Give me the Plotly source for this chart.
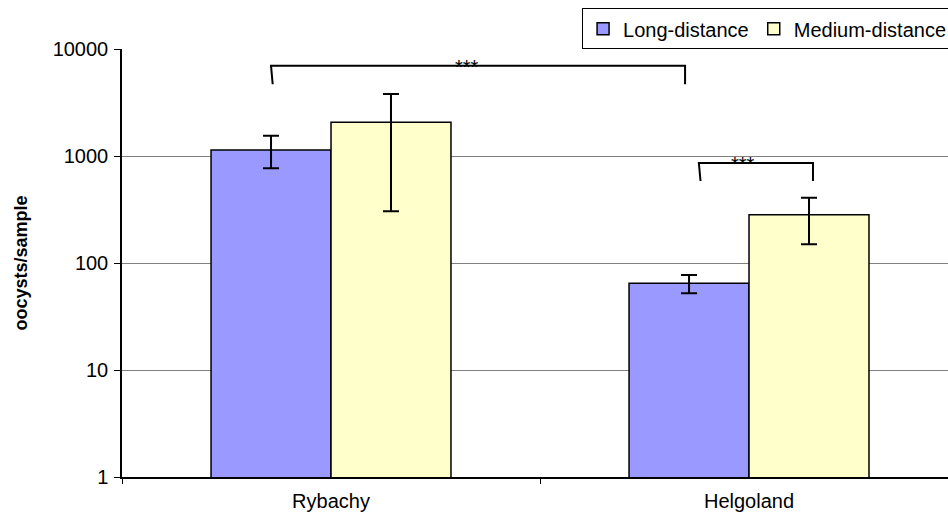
import math
import plotly.graph_objects as go

# Oocyst counts per sample, by site and migration distance
sites = ["Rybachy", "Helgoland"]
long_mean = [1140, 64.6]
long_upper = [1550, 77.2]
long_lower = [770, 52.1]
medium_mean = [2070, 283]
medium_upper = [3800, 408]
medium_lower = [305, 150]

y_ticks = [1, 10, 100, 1000, 10000]
y_ticklabels = ["1", "10", "100", "1000", "10000"]

FONT = "Liberation Sans, Arial, sans-serif"


def err(mean, upper, lower):
    return dict(
        type="data",
        symmetric=False,
        array=[u - m for u, m in zip(upper, mean)],
        arrayminus=[m - l for m, l in zip(mean, lower)],
        color="black",
        thickness=2,
        width=8,
    )


fig = go.Figure()
fig.add_trace(go.Bar(
    name="Long-distance", x=sites, y=long_mean,
    marker=dict(color="#9999FF", line=dict(color="black", width=1.5)),
    error_y=err(long_mean, long_upper, long_lower),
))
fig.add_trace(go.Bar(
    name="Medium-distance", x=sites, y=medium_mean,
    marker=dict(color="#FFFFCC", line=dict(color="black", width=1.5)),
    error_y=err(medium_mean, medium_upper, medium_lower),
))

# significance brackets: left x, right x, bar height, leg end, label x
brackets = [
    (-0.1435, 0.847, 6980, 4680, 0.325),
    (0.880, 1.153, 860, 584, 0.986),
]
for x0, x1, yb, yl, xs in brackets:
    fig.add_shape(type="path", xref="x", yref="y",
                  path=f"M {x0 + 0.004},{yl} L {x0},{yb} L {x1},{yb} L {x1},{yl}",
                  line=dict(color="black", width=2))
    # annotation y on a log axis is given as log10
    fig.add_annotation(x=xs, y=math.log10(yb), xref="x", yref="y", text="***",
                       showarrow=False, yanchor="middle", yshift=-1,
                       font=dict(family=FONT, size=20, color="black"))

fig.update_layout(
    width=948, height=516,
    margin=dict(l=122, r=0, t=49, b=39, autoexpand=False),
    paper_bgcolor="white", plot_bgcolor="white",
    barmode="group", bargap=0.426, bargroupgap=0,
    font=dict(family=FONT, size=20, color="black"),
    showlegend=True,
    legend=dict(
        orientation="h", x=0.557, y=1.095, xanchor="left", yanchor="top",
        bordercolor="black", borderwidth=1, bgcolor="white",
        font=dict(family=FONT, size=20, color="black"),
        itemclick=False, tracegroupgap=0,
    ),
    xaxis=dict(
        type="category", range=[-0.5, 1.476], tickson="boundaries",
        ticks="outside", ticklen=5, tickcolor="black",
        showline=True, linecolor="black", linewidth=1.5,
        showgrid=False, tickfont=dict(size=20), ticklabelstandoff=5,
    ),
    yaxis=dict(
        type="log", range=[0, 4],
        tickvals=y_ticks, ticktext=y_ticklabels,
        ticks="outside", ticklen=6, tickcolor="black",
        showline=True, linecolor="black", linewidth=1.5,
        showgrid=True, gridcolor="#808080", gridwidth=1,
        tickfont=dict(size=20), ticklabelstandoff=2,
        title=dict(text="<b>oocysts/sample</b>", font=dict(size=18), standoff=20),
    ),
)

fig.write_html("out.html")
